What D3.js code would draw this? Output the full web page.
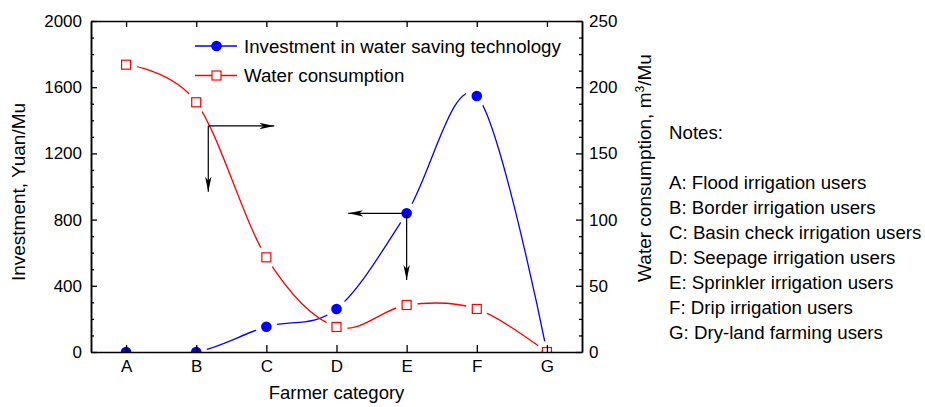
<!DOCTYPE html>
<html>
  <head>
    <meta charset="utf-8" />
    <title>Investment and water consumption by farmer category</title>
    <script src="https://d3js.org/d3.v7.min.js"></script>
    <style>
      body { margin: 0; background: #fff; }
      text { font-family: "Liberation Sans", Arial, sans-serif; fill: #000; }
    </style>
  </head>
  <body>
    <svg id="chart" width="925" height="407"></svg>
  </body>
  <script>
    // farmer categories and the two series
    var categories = ["A", "B", "C", "D", "E", "F", "G"];
    var investment = [0, 0, 153, 260, 838, 1547, 0];       // Yuan/Mu, left axis
    var waterUse = [217, 188.6, 71.5, 18.9, 35.5, 32.5, 0];  // m3/Mu, right axis
    var leftTicks = [0, 400, 800, 1200, 1600, 2000];
    var rightTicks = [0, 50, 100, 150, 200, 250];
    var notes = [
      "A: Flood irrigation users",
      "B: Border irrigation users",
      "C: Basin check irrigation users",
      "D: Seepage irrigation users",
      "E: Sprinkler irrigation users",
      "F: Drip irrigation users",
      "G: Dry-land farming users"
    ];
    // annotation arrows: start (category index, investment) and the two tips
    var arrows = [
      {x: 1.172, y: 1366, hx: 2.113, vy: 969},
      {x: 4, y: 838, hx: 3.168, vy: 435}
    ];

    var svg = d3.select("#chart");
    // note: "top" is taken by window.top, so the plot box uses other names
    var pLeft = 91, pRight = 582, pTop = 21, pBottom = 352;

    var x = d3.scaleLinear().domain([-0.5, 6.5]).range([pLeft, pRight]);
    var yL = d3.scaleLinear().domain([0, 2000]).range([pBottom, pTop]);
    var yR = d3.scaleLinear().domain([0, 250]).range([pBottom, pTop]);

    var defs = svg.append("defs");
    defs.append("clipPath").attr("id", "plotclip")
      .append("rect").attr("x", pLeft).attr("y", pTop)
      .attr("width", pRight - pLeft).attr("height", pBottom - pTop);

    defs.append("marker")
      .attr("id", "arrowhead")
      .attr("viewBox", "-15 -4 16 8")
      .attr("refX", 0).attr("refY", 0)
      .attr("markerWidth", 16).attr("markerHeight", 8)
      .attr("markerUnits", "userSpaceOnUse")
      .attr("orient", "auto")
      .append("path")
      .attr("d", "M0,0 L-15,-3.2 L-11,0 L-15,3.2 Z")
      .attr("fill", "#000");

    // masks that cut the line around its own markers
    var makeMask = function(id, values, yScale) {
      var m = defs.append("mask").attr("id", id)
        .attr("maskUnits", "userSpaceOnUse")
        .attr("x", 0).attr("y", 0).attr("width", 925).attr("height", 407);
      m.append("rect").attr("width", 925).attr("height", 407).attr("fill", "#fff");
      m.selectAll("circle").data(values).enter().append("circle")
        .attr("cx", function(d, i) { return x(i); })
        .attr("cy", function(d) { return yScale(d); })
        .attr("r", 11)
        .attr("fill", "#000");
    };
    makeMask("mask-inv", investment, yL);
    makeMask("mask-water", waterUse, yR);

    var plot = svg.append("g").attr("clip-path", "url(#plotclip)");

    var lineInv = d3.line()
      .x(function(d, i) { return x(i); })
      .y(function(d) { return yL(d); })
      .curve(d3.curveCardinal.tension(0));
    var lineWater = d3.line()
      .x(function(d, i) { return x(i); })
      .y(function(d) { return yR(d); })
      .curve(d3.curveCardinal.tension(0));

    plot.append("path")
      .datum(investment)
      .attr("d", lineInv)
      .attr("fill", "none")
      .attr("stroke", "#0000ff")
      .attr("stroke-width", 1.3)
      .attr("mask", "url(#mask-inv)");

    plot.append("path")
      .datum(waterUse)
      .attr("d", lineWater)
      .attr("fill", "none")
      .attr("stroke", "#ff0000")
      .attr("stroke-width", 1.3)
      .attr("mask", "url(#mask-water)");

    plot.selectAll(".dot").data(investment).enter().append("circle")
      .attr("class", "dot")
      .attr("cx", function(d, i) { return x(i); })
      .attr("cy", function(d) { return yL(d); })
      .attr("r", 5.3)
      .attr("fill", "#0000ff");

    plot.selectAll(".sq").data(waterUse).enter().append("rect")
      .attr("class", "sq")
      .attr("x", function(d, i) { return x(i) - 4.5; })
      .attr("y", function(d) { return yR(d) - 4.5; })
      .attr("width", 9).attr("height", 9)
      .attr("fill", "#fff")
      .attr("stroke", "#ff0000")
      .attr("stroke-width", 1.2);

    // arrows
    arrows.forEach(function(a) {
      svg.append("line")
        .attr("x1", x(a.x)).attr("y1", yL(a.y))
        .attr("x2", x(a.hx)).attr("y2", yL(a.y))
        .attr("stroke", "#000").attr("stroke-width", 1.2)
        .attr("marker-end", "url(#arrowhead)");
      svg.append("line")
        .attr("x1", x(a.x)).attr("y1", yL(a.y))
        .attr("x2", x(a.x)).attr("y2", yL(a.vy))
        .attr("stroke", "#000").attr("stroke-width", 1.2)
        .attr("marker-end", "url(#arrowhead)");
    });

    // axes, ticks point inward
    var idx = d3.range(categories.length);
    var styleAxis = function(g) {
      g.select(".domain").attr("stroke", "#000").attr("stroke-width", 1.5);
      g.selectAll(".tick line").attr("stroke", "#000").attr("stroke-width", 1.3);
      g.selectAll("text").style("font-size", "17px")
        .style("font-family", "'Liberation Sans', Arial, sans-serif");
    };

    svg.append("g").attr("transform", "translate(0," + pBottom + ")")
      .call(d3.axisBottom(x).tickValues(idx)
        .tickFormat(function(i) { return categories[i]; })
        .tickSizeInner(-7).tickSizeOuter(0).tickPadding(8))
      .call(styleAxis);

    svg.append("g").attr("transform", "translate(0," + pTop + ")")
      .call(d3.axisTop(x).tickValues(idx).tickFormat("")
        .tickSizeInner(-6).tickSizeOuter(0))
      .call(styleAxis);

    svg.append("g").attr("transform", "translate(" + pLeft + ",0)")
      .call(d3.axisLeft(yL).tickValues(d3.range(100, 2000, 100).filter(function(v) { return v % 400 != 0; }))
        .tickFormat("").tickSizeInner(-3).tickSizeOuter(0))
      .call(styleAxis);
    svg.append("g").attr("transform", "translate(" + pLeft + ",0)")
      .call(d3.axisLeft(yL).tickValues(leftTicks).tickFormat(d3.format("d"))
        .tickSizeInner(-6).tickSizeOuter(0).tickPadding(9))
      .call(styleAxis);

    svg.append("g").attr("transform", "translate(" + pRight + ",0)")
      .call(d3.axisRight(yR).tickValues(d3.range(12.5, 250, 12.5).filter(function(v) { return v % 50 != 0; }))
        .tickFormat("").tickSizeInner(-3).tickSizeOuter(0))
      .call(styleAxis);
    svg.append("g").attr("transform", "translate(" + pRight + ",0)")
      .call(d3.axisRight(yR).tickValues(rightTicks).tickFormat(d3.format("d"))
        .tickSizeInner(-6).tickSizeOuter(0).tickPadding(7))
      .call(styleAxis);

    // axis titles
    svg.append("text")
      .attr("transform", "translate(25,192) rotate(-90)")
      .attr("text-anchor", "middle")
      .style("font-size", "19px")
      .text("Investment, Yuan/Mu");

    var rt = svg.append("text")
      .attr("transform", "translate(651,168) rotate(-90)")
      .attr("text-anchor", "middle")
      .style("font-size", "19px");
    rt.append("tspan").text("Water consumption, m");
    rt.append("tspan").attr("dy", -7).style("font-size", "12px").text("3");
    rt.append("tspan").attr("dy", 7).text("/Mu");

    svg.append("text")
      .attr("x", (pLeft + pRight) / 2).attr("y", 399)
      .attr("text-anchor", "middle")
      .style("font-size", "18.5px")
      .text("Farmer category");

    // legend
    var legend = [
      {label: "Investment in water saving technology", color: "#0000ff", shape: "circle"},
      {label: "Water consumption", color: "#ff0000", shape: "square"}
    ];
    legend.forEach(function(l, i) {
      var ly = 46 + i * 29.5;
      var g = svg.append("g");
      g.append("line").attr("x1", 195).attr("x2", 237).attr("y1", ly).attr("y2", ly)
        .attr("stroke", l.color).attr("stroke-width", 1.3);
      if (l.shape == "circle") {
        g.append("circle").attr("cx", 216.5).attr("cy", ly).attr("r", 5.3).attr("fill", l.color);
      } else {
        g.append("rect").attr("x", 212).attr("y", ly - 4.5).attr("width", 9).attr("height", 9)
          .attr("fill", "#fff").attr("stroke", l.color).attr("stroke-width", 1.2);
      }
      g.append("text").attr("x", 244).attr("y", ly + 6.5)
        .style("font-size", "18.7px").text(l.label);
    });

    // notes
    svg.append("text").attr("x", 669).attr("y", 139)
      .style("font-size", "18.7px").text("Notes:");
    svg.selectAll(".note").data(notes).enter().append("text")
      .attr("class", "note")
      .attr("x", 669)
      .attr("y", function(d, i) { return 189 + i * 25; })
      .style("font-size", "18.7px")
      .text(function(d) { return d; });
  </script>
</html>
